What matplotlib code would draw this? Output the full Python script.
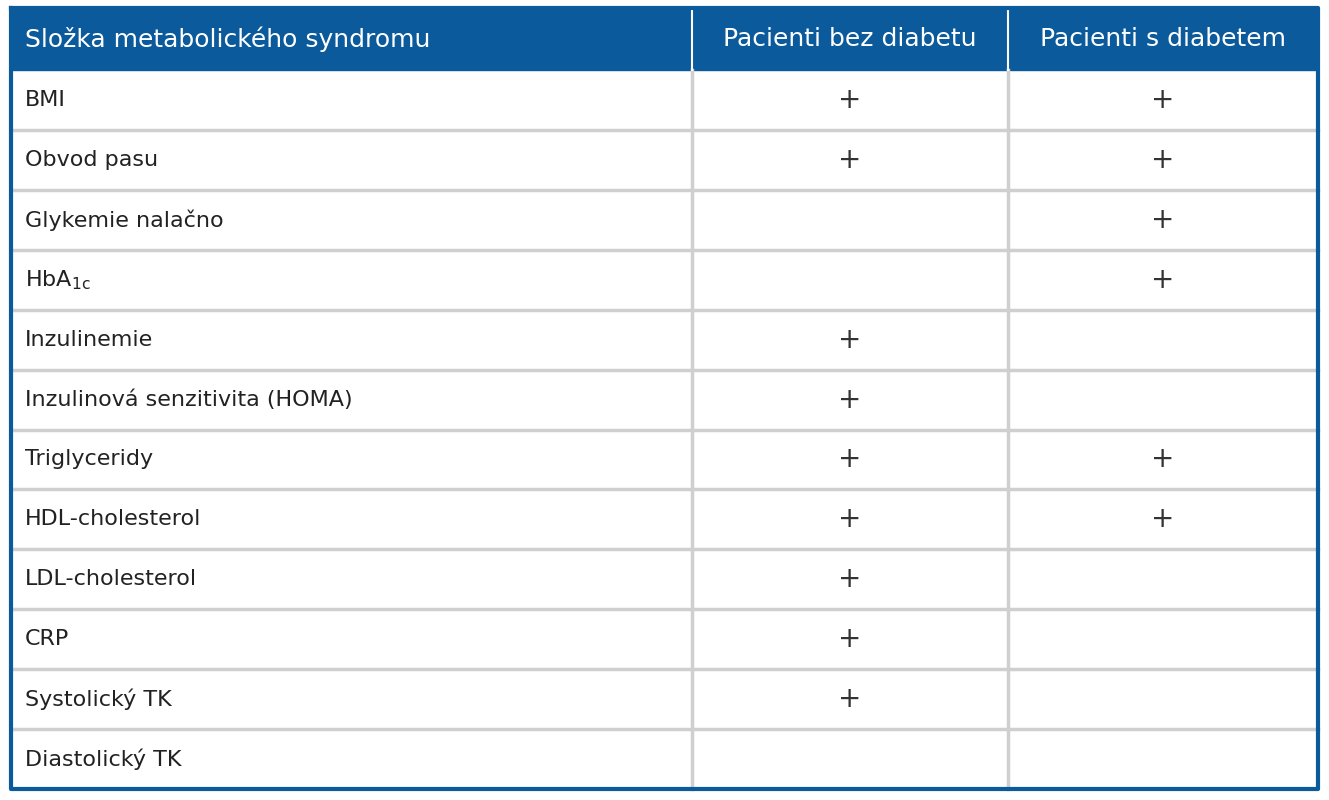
import matplotlib.pyplot as plt
from matplotlib.patches import Rectangle

headers = ["Složka metabolického syndromu", "Pacienti bez diabetu", "Pacienti s diabetem"]
components = ["BMI", "Obvod pasu", "Glykemie nalačno", "HbA$_{\\mathrm{1c}}$", "Inzulinemie",
              "Inzulinová senzitivita (HOMA)", "Triglyceridy", "HDL-cholesterol",
              "LDL-cholesterol", "CRP", "Systolický TK", "Diastolický TK"]
bez_diabetu = [1, 1, 0, 0, 1, 1, 1, 1, 1, 1, 1, 0]
s_diabetem = [1, 1, 1, 1, 0, 0, 1, 1, 0, 0, 0, 0]

blue = "#0b5a9c"
grid = "#cfcfcf"
font = ["DejaVu Sans Condensed", "Liberation Sans Narrow", "DejaVu Sans"]

fig = plt.figure(figsize=(13.29, 8), dpi=100)
ax = fig.add_axes([0, 0, 1, 1])
ax.set_xlim(0, 1329)
ax.set_ylim(800, 0)
ax.axis("off")

left, right, top, bottom = 11, 1318, 8, 789
head_h = 62
col_x = [left, 692, 1008, right]
row_h = (bottom - top - head_h) / len(components)

ax.add_patch(Rectangle((left, top), right - left, head_h, color=blue, zorder=2))
for i, h in enumerate(headers):
    if i == 0:
        ax.text(col_x[0] + 14, top + head_h / 2, h, color="white", fontsize=18,
                family=font, va="center", ha="left", zorder=3)
    else:
        ax.text((col_x[i] + col_x[i + 1]) / 2, top + head_h / 2, h, color="white",
                fontsize=18, family=font, va="center", ha="center", zorder=3)
# header dividers
for x in col_x[1:-1]:
    ax.plot([x, x], [top, top + head_h], color="white", lw=1.5, zorder=3)

y0 = top + head_h
for r, name in enumerate(components):
    yc = y0 + (r + 0.5) * row_h
    ax.text(col_x[0] + 14, yc, name, fontsize=16, family=font, color="#222222",
            va="center", ha="left")
    for c, vals in enumerate([bez_diabetu, s_diabetem]):
        if vals[r]:
            ax.text((col_x[c + 1] + col_x[c + 2]) / 2, yc, "+", fontsize=20,
                    color="#333333", va="center", ha="center")
    if r > 0:
        ax.plot([left, right], [y0 + r * row_h] * 2, color=grid, lw=2.5)
for x in col_x[1:-1]:
    ax.plot([x, x], [y0, bottom], color=grid, lw=2.5)

# outer border
ax.plot([left, left, right, right, left], [top, bottom, bottom, top, top],
        color=blue, lw=3, zorder=4)

fig.savefig("out.png", dpi=100)
